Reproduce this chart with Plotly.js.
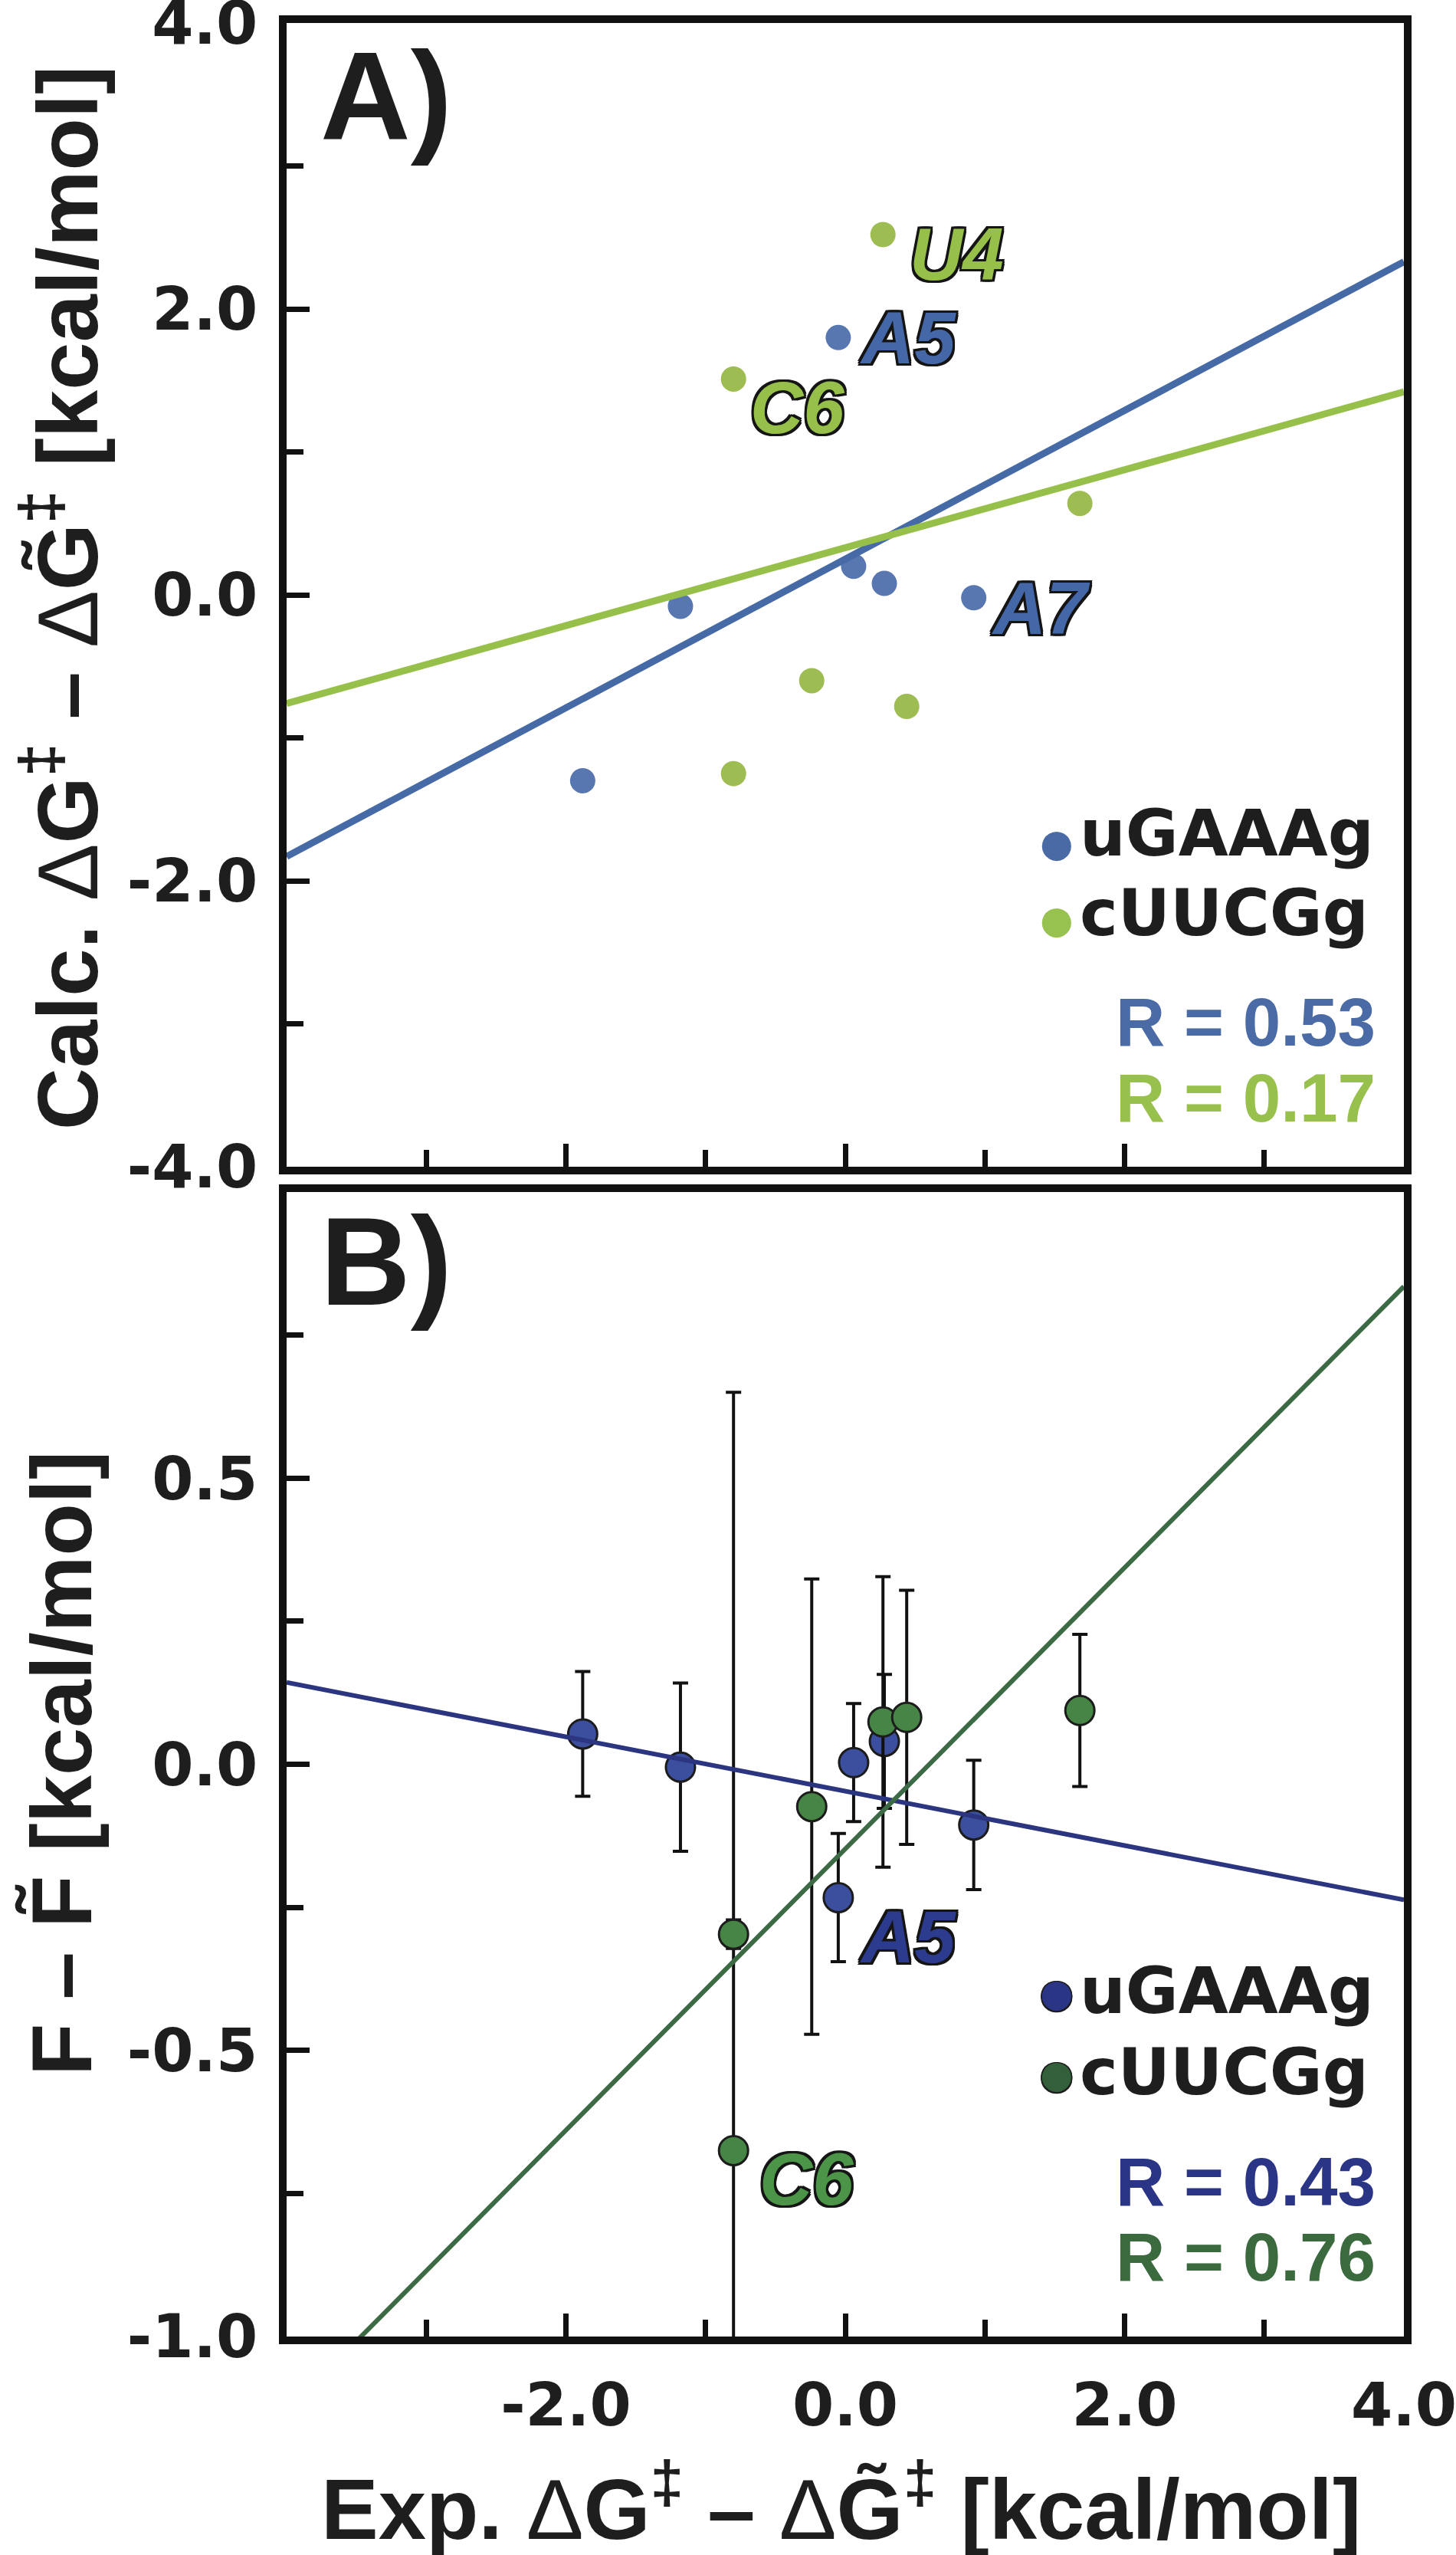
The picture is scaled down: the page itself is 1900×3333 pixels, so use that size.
<!DOCTYPE html>
<html>
<head>
<meta charset="utf-8">
<script src="https://cdn.plot.ly/plotly-3.0.1.min.js"></script>
<style>body{margin:0;background:#fff}</style>
</head>
<body>
<div id="chart" style="width:1900px;height:3333px"></div>
<script>
// Exp. dG - dG~ (same for both panels)
var xBlue = [-1.88, -1.18, -0.05, 0.06, 0.28, 0.92]
var xGreen = [-0.80, -0.80, -0.24, 0.27, 0.44, 1.68]

// panel A: Calc. dG - dG~
var calcBlue = [-1.30, -0.08, 1.80, 0.20, 0.08, -0.02]
var calcGreen = [-1.25, 1.51, -0.60, 2.52, -0.78, 0.64]

// panel B: F - F~ and its error
var fBlue = [0.053, -0.005, -0.233, 0.003, 0.040, -0.106]
var fBlueErr = [0.109, 0.147, 0.112, 0.103, 0.117, 0.113]
var fGreen = [-0.297, -0.675, -0.074, 0.074, 0.082, 0.094]
var fGreenErr = [0.025, 1.325, 0.398, 0.254, 0.222, 0.133]

// fit lines, y at both ends of the x range
var fitX = [-4, 4]
var fitBlueA = [-1.83, 2.33]
var fitGreenA = [-0.76, 1.42]
var fitBlueB = [0.143, -0.237]
var fitGreenB = [-1.131, 0.835]

var seriesNames = ['uGAAAg', 'cUUCGg']
var rA = ['R = 0.53', 'R = 0.17']
var rB = ['R = 0.43', 'R = 0.76']

// [label, series, index of point]
var labelsA = [['U4', 'green', 3], ['A5', 'blue', 2], ['C6', 'green', 1], ['A7', 'blue', 5]]
var labelsB = [['A5', 'blue', 2], ['C6', 'green', 1]]

var ticksYA = [-4, -2, 0, 2, 4]
var minorYA = [-3, -1, 1, 3]
var ticksYB = [-1, -0.5, 0, 0.5]
var minorYB = [-0.75, -0.25, 0.25, 0.75]
var ticksX = [-2, 0, 2, 4]
var ticksXA = [-2, 0, 2]
var minorX = [-3, -1, 1, 3]

/* page geometry (px) */
var L = 374, R = 1832, T = 30, B = 3048
function px(v) { return (v - L) / (R - L) }
function py(v) { return (B - v) / (B - T) }

var ink = '#1e1e1e'
var ARIAL = 'Liberation Sans, Arial, sans-serif'
var DEJAVU = 'DejaVu Sans, sans-serif'

var col = {
    blueA: '#5877b0', greenA: '#9dbc52', blueLineA: '#456aa6', greenLineA: '#97c04b',
    blueB: '#3b4f9e', greenB: '#468545', blueLineB: '#2b3580', greenLineB: '#3b6a45',
    rBlueA: '#4a6ba6', rGreenA: '#98c04c', rBlueB: '#2b3585', rGreenB: '#3a6a3e',
    labBlueA: '#4467a8', labGreenA: '#97c04a', labBlueB: '#2d3b8e', labGreenB: '#4c9448'
}

function outline(w, c) {
    var s = []
    ;[[-w, -w], [w, -w], [-w, w], [w, w], [0, -w], [0, w], [-w, 0], [w, 0]].forEach(function (d) {
        s.push(d[0] + 'px ' + d[1] + 'px 0 ' + c)
    })
    return s.join(', ')
}

function fmt(v) { return v.toFixed(1) }

var data = []

// panel A
data.push({ x: xBlue, y: calcBlue, xaxis: 'x2', yaxis: 'y2', mode: 'markers',
    marker: { size: 33, color: col.blueA } })
data.push({ x: xGreen, y: calcGreen, xaxis: 'x2', yaxis: 'y2', mode: 'markers',
    marker: { size: 33, color: col.greenA } })
data.push({ x: fitX, y: fitBlueA, xaxis: 'x2', yaxis: 'y2', mode: 'lines',
    line: { color: col.blueLineA, width: 9 } })
data.push({ x: fitX, y: fitGreenA, xaxis: 'x2', yaxis: 'y2', mode: 'lines',
    line: { color: col.greenLineA, width: 9 } })

// panel B
var errStyle = { type: 'data', color: '#111', thickness: 4, width: 10 }
data.push({ x: xBlue, y: fBlue, xaxis: 'x', yaxis: 'y', mode: 'markers',
    error_y: Object.assign({ array: fBlueErr }, errStyle),
    marker: { size: 38, color: col.blueB, line: { color: '#1c1c1c', width: 3 } } })
data.push({ x: xGreen, y: fGreen, xaxis: 'x', yaxis: 'y', mode: 'markers',
    error_y: Object.assign({ array: fGreenErr }, errStyle),
    marker: { size: 38, color: col.greenB, line: { color: '#1c1c1c', width: 3 } } })
data.push({ x: fitX, y: fitBlueB, xaxis: 'x', yaxis: 'y', mode: 'lines',
    line: { color: col.blueLineB, width: 6 } })
data.push({ x: fitX, y: fitGreenB, xaxis: 'x', yaxis: 'y', mode: 'lines',
    line: { color: col.greenLineB, width: 6 } })

function axis(extra) {
    var a = {
        showline: true, linewidth: 10, linecolor: '#111', mirror: true,
        showgrid: false, zeroline: false,
        ticks: 'inside', ticklen: 30, tickwidth: 7, tickcolor: '#111',
        tickmode: 'array',
        tickfont: { family: DEJAVU, size: 78, weight: 'bold', color: ink },
        ticklabelstandoff: 12,
        ticklabeloverflow: 'allow'
    }
    return Object.assign(a, extra)
}
function minor(vals) {
    return { tickmode: 'array', tickvals: vals, ticks: 'inside', ticklen: 22, tickwidth: 7, tickcolor: '#111' }
}

var ann = []
function note(text, x, y, font, more) {
    ann.push(Object.assign({ text: text, x: x, y: y, xref: 'paper', yref: 'paper',
        showarrow: false, xanchor: 'left', yanchor: 'middle', font: font }, more || {}))
}

var titleFont = { family: ARIAL, size: 112, weight: 'bold', color: ink }
var dG = '<span style="font-weight:normal">Δ</span>G<sup>‡</sup>'
var dGt = '<span style="font-weight:normal">Δ</span>G\u0303<sup>‡</sup>'

note('A)', px(416), py(126), { family: ARIAL, size: 163, weight: 'bold', color: ink })
note('B)', px(416), py(1646), { family: ARIAL, size: 163, weight: 'bold', color: ink })
note('Exp. ' + dG + ' – ' + dGt + ' [kcal/mol]', px(1097), py(3265), titleFont, { xanchor: 'center' })
note('Calc. ' + dG + ' – ' + dGt + ' [kcal/mol]', px(80), py(780), titleFont, { xanchor: 'center', textangle: -90 })
note('F – F\u0303 [kcal/mol]', px(80), py(2301), titleFont, { xanchor: 'center', textangle: -90 })

// R values
var rFont = function (c) { return { family: ARIAL, size: 89, weight: 'bold', color: c } }
note(rA[0], px(1797), py(1333), rFont(col.rBlueA), { xanchor: 'right' })
note(rA[1], px(1797), py(1432), rFont(col.rGreenA), { xanchor: 'right' })
note(rB[0], px(1797), py(2846), rFont(col.rBlueB), { xanchor: 'right' })
note(rB[1], px(1797), py(2944), rFont(col.rGreenB), { xanchor: 'right' })

// legend entries
var legFont = { family: DEJAVU, size: 84, weight: 'bold', color: ink }
function dot(c, x, y, edge) {
    note('●', x, y, { family: DEJAVU, size: 50, color: c, shadow: edge ? outline(1.5, '#1c1c1c') : 'none' }, { xanchor: 'center' })
}
note(seriesNames[0], px(1407), py(1087), legFont)
note(seriesNames[1], px(1407), py(1191), legFont)
dot('#4a6aa6', px(1379), py(1100), false)
dot('#98c24f', px(1379), py(1200), false)
note(seriesNames[0], px(1407), py(2597), legFont)
note(seriesNames[1], px(1407), py(2703), legFont)
dot('#2b3585', px(1379), py(2600), true)
dot('#335f3a', px(1379), py(2706), true)

// point labels
var labFont = function (c) {
    return { family: ARIAL, size: 96, weight: 'bold', style: 'italic', color: c, shadow: outline(3, '#151515') }
}
var shiftA = { U4: [33, 25], A5: [26, 0], C6: [20, 37], A7: [21, 14] }
var shiftB = { A5: [26, 51], C6: [32, 37] }
labelsA.forEach(function (l) {
    var xs = l[1] === 'blue' ? xBlue : xGreen
    var ys = l[1] === 'blue' ? calcBlue : calcGreen
    ann.push({ text: l[0], x: xs[l[2]], y: ys[l[2]], xref: 'x2', yref: 'y2', showarrow: false,
        xanchor: 'left', yanchor: 'middle', xshift: shiftA[l[0]][0], yshift: -shiftA[l[0]][1],
        font: labFont(l[1] === 'blue' ? col.labBlueA : col.labGreenA) })
})
labelsB.forEach(function (l) {
    var xs = l[1] === 'blue' ? xBlue : xGreen
    var ys = l[1] === 'blue' ? fBlue : fGreen
    ann.push({ text: l[0], x: xs[l[2]], y: ys[l[2]], xref: 'x', yref: 'y', showarrow: false,
        xanchor: 'left', yanchor: 'middle', xshift: shiftB[l[0]][0], yshift: -shiftB[l[0]][1],
        font: labFont(l[1] === 'blue' ? col.labBlueB : col.labGreenB) })
})

var layout = {
    width: 1900, height: 3333,
    margin: { l: L, r: 1900 - R, t: T, b: 3333 - B, pad: 0 },
    paper_bgcolor: '#fff', plot_bgcolor: '#fff',
    showlegend: false,
    xaxis: axis({ domain: [0, 1], anchor: 'y', range: [-4, 4], tickvals: ticksX, ticktext: ticksX.map(fmt), minor: minor(minorX) }),
    yaxis: axis({ domain: [0, py(1555)], anchor: 'x', range: [-1, 1], tickvals: ticksYB, ticktext: ticksYB.map(fmt), minor: minor(minorYB) }),
    xaxis2: axis({ domain: [0, 1], anchor: 'y2', range: [-4, 4], tickvals: ticksXA, showticklabels: false, minor: minor(minorX) }),
    yaxis2: axis({ domain: [py(1522), 1], anchor: 'x2', range: [-4, 4], tickvals: ticksYA, ticktext: ticksYA.map(fmt), minor: minor(minorYA) }),
    annotations: ann
}

Plotly.newPlot('chart', data, layout, { staticPlot: true })
</script>
</body>
</html>
